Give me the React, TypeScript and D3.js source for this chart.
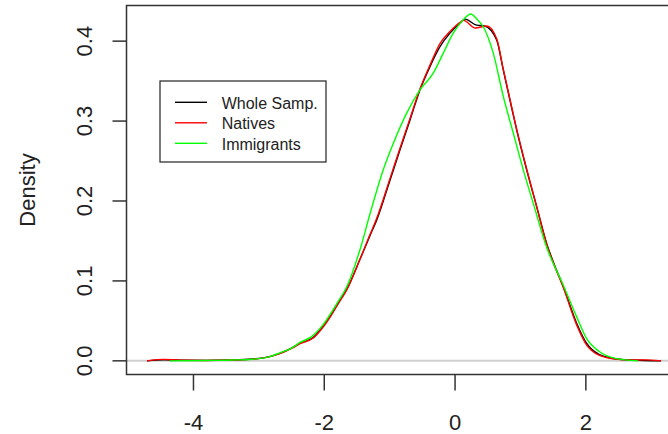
import * as d3 from "d3";

// density estimates: [x, density]
const wholeSample: [number, number][] = [
  [-4.71, 0], [-4.45, 0.0012], [-4.2, 0.0008], [-3.8, 0.0006], [-3.4, 0.001],
  [-3.09, 0.0023], [-2.85, 0.005], [-2.68, 0.0094], [-2.5, 0.016], [-2.37, 0.022],
  [-2.17, 0.029], [-2.02, 0.043], [-1.9, 0.057], [-1.79, 0.072], [-1.66, 0.089],
  [-1.454, 0.127], [-1.3, 0.157], [-1.199, 0.176], [-0.995, 0.226], [-0.842, 0.264],
  [-0.69, 0.301], [-0.537, 0.339], [-0.384, 0.368], [-0.231, 0.393], [-0.078, 0.41],
  [0.075, 0.4225], [0.151, 0.4275], [0.33, 0.42], [0.45, 0.419], [0.636, 0.4016],
  [0.737, 0.364], [0.84, 0.326], [0.942, 0.289], [1.095, 0.239], [1.248, 0.193],
  [1.4, 0.147], [1.52, 0.12], [1.654, 0.093], [1.859, 0.047], [2.01, 0.022],
  [2.2, 0.008], [2.42, 0.003], [2.7, 0.001], [3.15, 0],
];

const natives: [number, number][] = [
  [-4.71, 0], [-4.45, 0.0018], [-4.2, 0.0008], [-3.8, 0.0005], [-3.4, 0.001],
  [-3.09, 0.0022], [-2.85, 0.005], [-2.68, 0.009], [-2.5, 0.0155], [-2.37, 0.0215],
  [-2.17, 0.0285], [-2.02, 0.042], [-1.9, 0.056], [-1.79, 0.071], [-1.66, 0.088],
  [-1.454, 0.127], [-1.3, 0.158], [-1.199, 0.178], [-0.995, 0.228], [-0.842, 0.266],
  [-0.69, 0.303], [-0.537, 0.34], [-0.384, 0.37], [-0.231, 0.397], [-0.078, 0.412],
  [0.075, 0.4235], [0.13, 0.426], [0.31, 0.4165], [0.483, 0.419], [0.636, 0.403],
  [0.737, 0.365], [0.84, 0.327], [0.942, 0.29], [1.095, 0.24], [1.248, 0.193],
  [1.4, 0.146], [1.52, 0.119], [1.654, 0.092], [1.859, 0.045], [2.01, 0.02],
  [2.2, 0.007], [2.42, 0.0025], [2.7, 0.001], [2.9, 0.0012], [3.15, 0],
];

const immigrants: [number, number][] = [
  [-4.36, 0], [-3.8, 0.0005], [-3.4, 0.001], [-3.1, 0.002], [-2.85, 0.005],
  [-2.68, 0.01], [-2.5, 0.016], [-2.37, 0.023], [-2.2, 0.03], [-2.02, 0.045],
  [-1.79, 0.074], [-1.66, 0.092], [-1.454, 0.139], [-1.3, 0.184], [-1.098, 0.239],
  [-0.945, 0.272], [-0.74, 0.31], [-0.537, 0.339], [-0.333, 0.36], [-0.18, 0.385],
  [-0.028, 0.41], [0.125, 0.4267], [0.239, 0.434], [0.33, 0.428], [0.431, 0.418],
  [0.584, 0.385], [0.737, 0.331], [0.89, 0.285], [1.043, 0.239], [1.196, 0.197],
  [1.4, 0.142], [1.654, 0.095], [1.86, 0.055], [2.01, 0.028], [2.2, 0.012],
  [2.45, 0.003], [2.8, 0],
];

const seriesNames = ["Whole Samp.", "Natives", "Immigrants"];
const seriesColors = ["#000000", "#ff0000", "#00ff00"];
const xTicks = [-4, -2, 0, 2];
const yTicks = [0, 0.1, 0.2, 0.3, 0.4];

const width = 668;
const height = 434;
const font = "'Liberation Sans', Arial, sans-serif";

export default function App() {
  const x = d3.scaleLinear().domain([-5.024, 3.464]).range([126.5, 681.6]);
  const y = d3.scaleLinear().domain([-0.0171, 0.4446]).range([374.5, 5.5]);

  const line = d3
    .line<[number, number]>()
    .x((d) => x(d[0]))
    .y((d) => y(d[1]))
    .curve(d3.curveMonotoneX);

  const series = [wholeSample, natives, immigrants];
  const [x0, x1] = x.range();
  const [yb, yt] = y.range();

  return (
    <svg
      width={width}
      height={height}
      style={{ position: "absolute", left: 0, top: 0, background: "#fff" }}
    >
      <line x1={x0} x2={x1} y1={y(0)} y2={y(0)} stroke="#cfcfcf" strokeWidth={2} />

      {series.map((s, i) => (
        <path
          key={seriesNames[i]}
          d={line(s) ?? ""}
          fill="none"
          stroke={seriesColors[i]}
          strokeWidth={1.4}
        />
      ))}

      <rect
        x={x0}
        y={yt}
        width={x1 - x0}
        height={yb - yt}
        fill="none"
        stroke="#333"
        strokeWidth={1.5}
      />

      {/* y axis */}
      {yTicks.map((t) => (
        <g key={t}>
          <line x1={x0 - 14} x2={x0} y1={y(t)} y2={y(t)} stroke="#333" strokeWidth={1.5} />
          <text
            transform={`translate(92,${y(t)}) rotate(-90)`}
            textAnchor="middle"
            fontFamily={font}
            fontSize={22}
            fill="#222"
          >
            {d3.format(".1f")(t)}
          </text>
        </g>
      ))}
      <text
        transform={`translate(35,${(yb + yt) / 2}) rotate(-90)`}
        textAnchor="middle"
        fontFamily={font}
        fontSize={22}
        fill="#222"
      >
        Density
      </text>

      {/* x axis */}
      {xTicks.map((t) => (
        <g key={t}>
          <line x1={x(t)} x2={x(t)} y1={yb} y2={yb + 16} stroke="#333" strokeWidth={1.5} />
          <text
            x={x(t)}
            y={429.5}
            textAnchor="middle"
            fontFamily={font}
            fontSize={22}
            fill="#222"
          >
            {t}
          </text>
        </g>
      ))}

      {/* legend */}
      <rect x={160} y={81} width={166} height={81} fill="#fff" stroke="#222" strokeWidth={1.2} />
      {seriesNames.map((name, i) => {
        const cy = 102.3 + i * 20.5;
        return (
          <g key={name}>
            <line x1={175} x2={207} y1={cy} y2={cy} stroke={seriesColors[i]} strokeWidth={1.4} />
            <text x={221.7} y={cy + 6.5} fontFamily={font} fontSize={16} fill="#222">
              {name}
            </text>
          </g>
        );
      })}
    </svg>
  );
}
